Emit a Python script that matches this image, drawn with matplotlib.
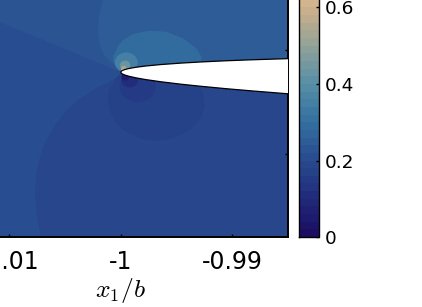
import numpy as np
import matplotlib
matplotlib.use('Agg')
import matplotlib.pyplot as plt
from matplotlib.colors import LinearSegmentedColormap, BoundaryNorm
from matplotlib.patches import Polygon, Ellipse
from matplotlib.cm import ScalarMappable

plt.rcParams['font.family'] = 'DejaVu Sans'
plt.rcParams['mathtext.fontset'] = 'cm'

# contour levels and colour scale (navy -> blue -> teal -> tan)
levels = np.linspace(0.0, 0.8, 41)
cmap_pos = [0.0, 0.125, 0.25, 0.375, 0.5, 0.625, 0.75, 0.875, 1.0]
cmap_hex = ['#1b0e62', '#212d7c', '#284c8f', '#3470a0', '#588fa6',
            '#91a298', '#cdb08a', '#eecdaa', '#fcf0e6']

# body surface near the leading edge (x1/b, x2/b)
body_x = [-1.0, -0.999955, -0.99991, -0.99982, -0.99964, -0.99928, -0.99865,
          -0.99776, -0.99641, -0.99462, -0.99282, -0.99058, -0.98834,
          -0.98475, -0.98340]
body_up = [0.007865, 0.007956, 0.007994, 0.008045, 0.008117, 0.008217,
           0.008337, 0.008461, 0.0086, 0.008739, 0.00885, 0.008963,
           0.009055, 0.009177, 0.009217]
body_lo = [0.007865, 0.007772, 0.007732, 0.007676, 0.007594, 0.007477,
           0.007324, 0.007154, 0.006946, 0.006714, 0.006511, 0.006282,
           0.006075, 0.005768, 0.005659]

# straight contour running from the left edge into the nose
split_x = [-1.015, -1.0]
split_y = [0.014524, 0.007865]

# background values either side of that contour
r1_val = 0.21   # lower side
r2_val = 0.23   # upper side

# upper side contours
u1_x = [-1.000987, -1.001345, -1.001614, -1.001928, -1.002063, -1.001883,
        -1.001614, -1.000987, -1.000359, -0.99991, -0.992914, -0.983945,
        -0.983945]
u1_y = [0.0225, 0.015769, 0.014807, 0.013365, 0.011634, 0.010481,
        0.009711, 0.008942, 0.008365, 0.007884, 0.007692, 0.007404, 0.0225]
u1_val = 0.25

u2_x = [-0.99991, -1.000242, -1.000583, -1.000691, -1.000673, -1.000538,
        -1.000269, -0.999794, -0.998897, -0.997399, -0.995901, -0.994412,
        -0.99321, -0.992762, -0.992735, -0.994708]
u2_y = [0.00788, 0.00824, 0.00875, 0.00904, 0.00942, 0.00968, 0.01034,
        0.01096, 0.01154, 0.01186, 0.01176, 0.01112, 0.01016, 0.00936,
        0.00865, 0.00808]
u2_val = 0.29

# lower side contours
l1_x = [-0.999955, -1.000359, -1.001435, -1.002511, -1.003677, -1.004843,
        -1.00592, -1.006996, -1.007534, -1.007713, -1.007534, -1.007265,
        -1.006906, -0.983945, -0.983945]
l1_y = [0.00779, 0.00731, 0.00673, 0.00615, 0.00529, 0.00423, 0.00279,
        0.00067, -0.00154, -0.00375, -0.00587, -0.00731, -0.00923,
        -0.00923, 0.0075]
l1_val = 0.19

l2_x = [-0.999955, -1.000448, -1.000691, -1.001031, -1.001166, -1.000987,
        -1.000538, -0.999794, -0.998296, -0.996798, -0.995309, -0.993811,
        -0.992762, -0.992466, -0.992618, -0.992914, -0.993363]
l2_y = [0.00779, 0.00731, 0.0068, 0.00615, 0.00538, 0.00423, 0.00317,
        0.00231, 0.00151, 0.00128, 0.00151, 0.00231, 0.00359, 0.00455,
        0.00584, 0.00663, 0.0075]
l2_val = 0.17

# small closed contours round the nose
low_cx = [-0.998475, -0.999193, -0.999596]
low_cy = [0.006538, 0.007115, 0.007404]
low_w = [0.003229, 0.001525, 0.000718]
low_h = [0.003077, 0.001442, 0.000673]
low_val = [0.15, 0.11, 0.05]

up_cx = [-0.999507, -0.999614, -0.999731, -0.999848]
up_cy = [0.008798, 0.008509, 0.008221, 0.008048]
up_w = [0.002063, 0.000951, 0.000484, 0.000233]
up_h = [0.001923, 0.000962, 0.00052, 0.00025]
up_val = [0.35, 0.43, 0.53, 0.67]


def add_region(ax, patch, clip):
    ax.add_patch(patch)
    patch.set_clip_path(clip)


def main():
    W, H = 422, 307
    fig = plt.figure(figsize=(W / 100, H / 100), dpi=100)
    ax = fig.add_axes([-46.5 / W, (H - 236.5) / H, 334.5 / W, 305.5 / H])
    cax = fig.add_axes([299 / W, (H - 237) / H, 20 / W, 306 / H])

    cmap = LinearSegmentedColormap.from_list('nose', list(zip(cmap_pos, cmap_hex)))
    norm = BoundaryNorm(levels, cmap.N)
    col = lambda v: cmap(norm(v))

    ax.set_facecolor(col(r1_val))

    centre = (np.array(body_up) + np.array(body_lo)) / 2
    line = [(split_x[0], split_y[0])] + list(zip(body_x, centre))
    upper = Polygon(line + [(body_x[-1], 0.03), (split_x[0], 0.03)],
                    closed=True, facecolor=col(r2_val), edgecolor='none', lw=0)
    ax.add_patch(upper)
    lower = Polygon(line + [(body_x[-1], -0.02), (split_x[0], -0.02)],
                    closed=True, transform=ax.transData)

    for xs, ys, v in [(u1_x, u1_y, u1_val), (u2_x, u2_y, u2_val)]:
        p = Polygon(np.column_stack([xs, ys]), closed=True, facecolor=col(v),
                    edgecolor='none', lw=0)
        add_region(ax, p, upper)
    for cx, cy, w, h, v in zip(up_cx, up_cy, up_w, up_h, up_val):
        add_region(ax, Ellipse((cx, cy), w, h, facecolor=col(v),
                               edgecolor='none', lw=0), upper)

    for xs, ys, v in [(l1_x, l1_y, l1_val), (l2_x, l2_y, l2_val)]:
        p = Polygon(np.column_stack([xs, ys]), closed=True, facecolor=col(v),
                    edgecolor='none', lw=0)
        add_region(ax, p, lower)
    for cx, cy, w, h, v in zip(low_cx, low_cy, low_w, low_h, low_val):
        add_region(ax, Ellipse((cx, cy), w, h, facecolor=col(v),
                               edgecolor='none', lw=0), lower)

    # the body itself
    outline = list(zip(body_x, body_up)) + list(zip(body_x[::-1], body_lo[::-1]))
    ax.add_patch(Polygon(outline, closed=True, facecolor='white',
                         edgecolor='black', lw=0.9, zorder=3))

    ax.set_xlim(-1.015, -0.985)
    ax.set_ylim(-0.007932, 0.021441)
    ax.set_xticks([-1.01, -1.0, -0.99])
    ax.set_xticklabels(['-1.01', '-1', '-0.99'])
    ax.set_yticks([0.0, 0.01, 0.02])
    ax.tick_params(direction='in', top=True, right=True, length=2.2, width=1,
                   labelsize=17, pad=10)
    ax.tick_params(axis='y', labelleft=False)
    ax.set_xlabel('$x_1/b$', fontsize=18.5, labelpad=1)
    for s in ax.spines.values():
        s.set_linewidth(1.4)

    sm = ScalarMappable(norm=norm, cmap=cmap)
    cb = fig.colorbar(sm, cax=cax, ticks=[0, 0.2, 0.4, 0.6])
    cb.minorticks_off()
    cb.ax.set_yticklabels(['0', '0.2', '0.4', '0.6'])
    cb.ax.tick_params(direction='in', length=2.2, width=1, labelsize=13.3, pad=4)
    cb.outline.set_linewidth(1.0)

    fig.savefig('out.png', dpi=100)


if __name__ == '__main__':
    main()
